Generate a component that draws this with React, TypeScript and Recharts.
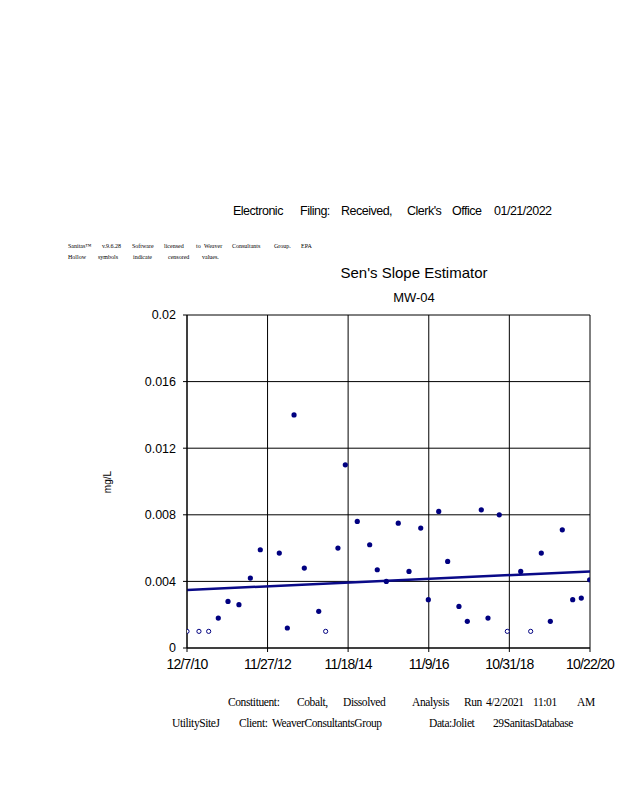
import React from 'react';
import { ComposedChart, Scatter, XAxis, YAxis, CartesianGrid, Line } from 'recharts';

// ---- data ----
const sampleDates = [
  '2010-12-07', '2011-03-24', '2011-06-19', '2011-09-13', '2011-12-09', '2012-03-16',
  '2012-06-26', '2012-09-23', '2013-03-12', '2013-05-23', '2013-07-22', '2013-10-22',
  '2014-02-28', '2014-05-01', '2014-08-19', '2014-10-24', '2015-02-08', '2015-05-30',
  '2015-08-06', '2015-10-26', '2016-02-10', '2016-05-16', '2016-08-29', '2016-11-05',
  '2017-02-06', '2017-04-27', '2017-08-06', '2017-10-20', '2018-02-22', '2018-04-23',
  '2018-08-02', '2018-10-13', '2019-02-10', '2019-05-10', '2019-08-13', '2019-11-02',
  '2020-02-17', '2020-05-20', '2020-08-05', '2020-10-19',
];
const cobaltValues = [
  0.001, 0.001, 0.001, 0.0018, 0.0028, 0.0026,
  0.0042, 0.0059, 0.0057, 0.0012, 0.014, 0.0048,
  0.0022, 0.001, 0.006, 0.011, 0.0076, 0.0062,
  0.0047, 0.004, 0.0075, 0.0046, 0.0072, 0.0029,
  0.0082, 0.0052, 0.0025, 0.0016, 0.0083, 0.0018,
  0.008, 0.001, 0.0046, 0.001, 0.0057, 0.0016,
  0.0071, 0.0029, 0.003, 0.0041,
];
const censoredFlags = [
  true, true, true, false, false, false,
  false, false, false, false, false, false,
  false, true, false, false, false, false,
  false, false, false, false, false, false,
  false, false, false, false, false, false,
  false, true, false, true, false, false,
  false, false, false, false,
];
const xTickDates = ['2010-12-07', '2012-11-27', '2014-11-18', '2016-11-09', '2018-10-31', '2020-10-22'];
const xTickLabels = ['12/7/10', '11/27/12', '11/18/14', '11/9/16', '10/31/18', '10/22/20'];
const yTicks = [0, 0.004, 0.008, 0.012, 0.016, 0.02];
const yTickLabels = ['0', '0.004', '0.008', '0.012', '0.016', '0.02'];
const trendDates = ['2010-12-07', '2020-10-22'];
const trendValues = [0.00348, 0.0046];

const headerWords: [string, number][] = [
  ['Electronic', 233], ['Filing:', 300], ['Received,', 341], ["Clerk's", 407], ['Office', 452], ['01/21/2022', 494],
];
const noteLine1: [string, number][] = [
  ['Sanitas\u2122', 68], ['v.9.6.28', 102], ['Software', 132], ['licensed', 164], ['to', 196], ['Weaver', 204],
  ['Consultants', 232], ['Group.', 274], ['EPA', 301],
];
const noteLine2: [string, number][] = [
  ['Hollow', 68], ['symbols', 98], ['indicate', 133], ['censored', 168], ['values.', 202],
];
const footer1: [string, number][] = [
  ['Constituent:', 228], ['Cobalt,', 297], ['Dissolved', 343], ['Analysis', 412], ['Run', 464],
  ['4/2/2021', 486], ['11:01', 533], ['AM', 577],
];
const footer2: [string, number][] = [
  ['UtilitySiteJ', 172], ['Client:', 239], ['WeaverConsultantsGroup', 272], ['Data:Joliet', 429], ['29SanitasDatabase', 493],
];

// ---- derived ----
const toT = (s: string) => Date.parse(s + 'T00:00:00Z');
const allPoints = sampleDates.map((d, i) => ({ t: toT(d), v: cobaltValues[i], c: censoredFlags[i] }));
const filledPoints = allPoints.filter((p) => !p.c);
const hollowPoints = allPoints.filter((p) => p.c);
const trendData = trendDates.map((d, i) => ({ t: toT(d), v: trendValues[i] }));
const xTicks = xTickDates.map(toT);

const NAVY = '#000080';

const FilledDot = (props: any) => {
  const { cx, cy } = props;
  if (cx == null || cy == null) return <g />;
  return <circle cx={cx} cy={cy} r={2.6} fill={NAVY} />;
};
const HollowDot = (props: any) => {
  const { cx, cy } = props;
  if (cx == null || cy == null) return <g />;
  return <circle cx={cx} cy={cy} r={2.1} fill="#fff" stroke={NAVY} strokeWidth={1} />;
};

const sans = '"Liberation Sans", Arial, sans-serif';
const serif = '"Liberation Serif", "Times New Roman", serif';

export default function App() {
  const plotLeft = 187;
  const plotTop = 315;
  const plotRight = 590;
  const plotBottom = 648;
  const yAxisW = 60;
  const xAxisH = 30;
  return (
    <div style={{ position: 'absolute', left: 0, top: 0, width: 618, height: 800, background: '#fff' }}>
      <ComposedChart
        width={618}
        height={800}
        margin={{ top: plotTop, left: plotLeft - yAxisW, right: 618 - plotRight, bottom: 800 - plotBottom - xAxisH }}
      >
        <CartesianGrid stroke="#000" strokeWidth={1} />
        <XAxis
          type="number"
          dataKey="t"
          domain={[xTicks[0], xTicks[xTicks.length - 1]]}
          ticks={xTicks}
          interval={0}
          height={xAxisH}
          tickFormatter={(v: number) => xTickLabels[xTicks.indexOf(v)] ?? ''}
          stroke="#000"
          tickSize={4}
          tickMargin={7}
          tick={{ fill: '#000', fontSize: 14, fontFamily: sans, letterSpacing: -0.8 }}
          allowDataOverflow
        />
        <YAxis
          type="number"
          dataKey="v"
          domain={[0, 0.02]}
          ticks={yTicks}
          interval={0}
          width={yAxisW}
          tickFormatter={(v: number) => yTickLabels[yTicks.indexOf(v)] ?? ''}
          stroke="#000"
          tickSize={4}
          tickMargin={7}
          tick={{ fill: '#000', fontSize: 12.5, fontFamily: sans }}
          allowDataOverflow
        />
        <Line
          data={trendData}
          dataKey="v"
          stroke="#0a0a88"
          strokeWidth={2.5}
          dot={false}
          activeDot={false}
          isAnimationActive={false}
        />
        <Scatter data={filledPoints} dataKey="v" shape={<FilledDot />} isAnimationActive={false} />
        <Scatter data={hollowPoints} dataKey="v" shape={<HollowDot />} isAnimationActive={false} />
      </ComposedChart>
      <svg
        width={618}
        height={800}
        style={{ position: 'absolute', left: 0, top: 0, pointerEvents: 'none' }}
      >
        {headerWords.map(([w, x]) => (
          <text key={w} x={x} y={215} fontFamily={sans} fontSize={12.5} letterSpacing={-0.5} fill="#000">{w}</text>
        ))}
        {noteLine1.map(([w, x]) => (
          <text key={w} x={x} y={248} fontFamily={serif} fontSize={6} fill="#000">{w}</text>
        ))}
        {noteLine2.map(([w, x]) => (
          <text key={w} x={x} y={259} fontFamily={serif} fontSize={6} fill="#000">{w}</text>
        ))}
        <text x={414} y={278} textAnchor="middle" fontFamily={sans} fontSize={15} fill="#000">Sen's Slope Estimator</text>
        <text x={414} y={302} textAnchor="middle" fontFamily={sans} fontSize={13} fill="#000">MW-04</text>
        <text
          x={107.5}
          y={482}
          textAnchor="middle"
          dominantBaseline="central"
          transform="rotate(-90 107.5 482)"
          fontFamily={sans}
          fontSize={10}
          fill="#000"
        >
          mg/L
        </text>
        {footer1.map(([w, x]) => (
          <text key={w} x={x} y={706} fontFamily={serif} fontSize={11.5} letterSpacing={-0.4} fill="#000">{w}</text>
        ))}
        {footer2.map(([w, x]) => (
          <text key={w} x={x} y={727} fontFamily={serif} fontSize={11.5} letterSpacing={-0.4} fill="#000">{w}</text>
        ))}
      </svg>
    </div>
  );
}
